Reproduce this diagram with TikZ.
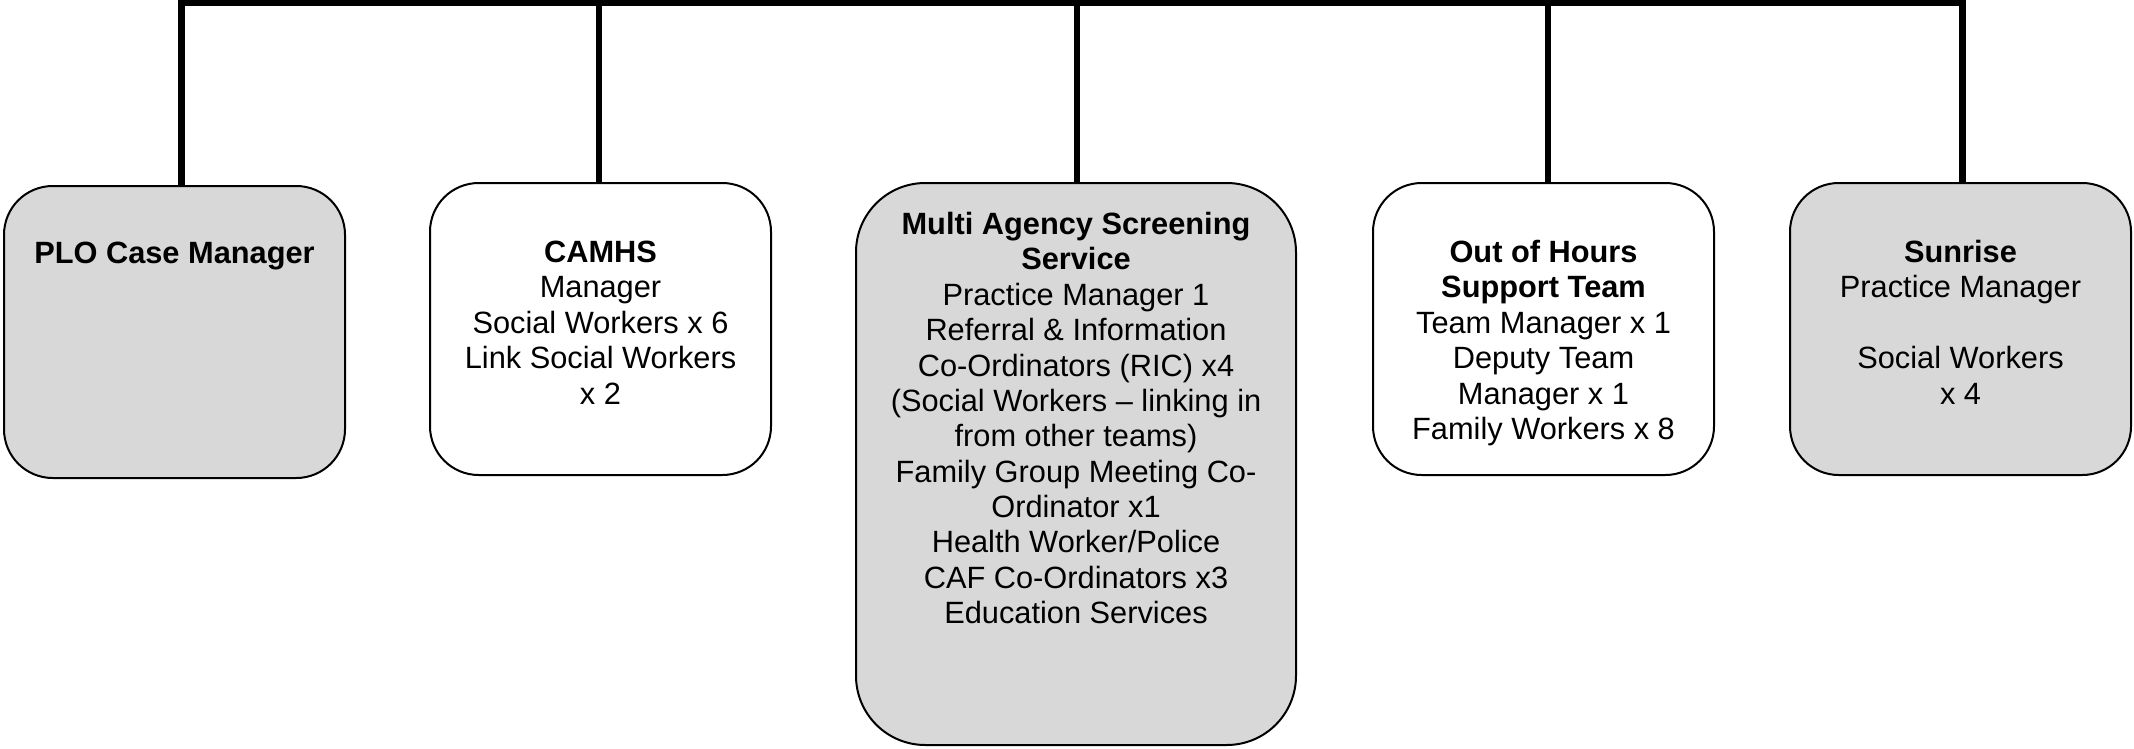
\documentclass[tikz,border=0pt]{standalone}
\usepackage{fontspec}
\setmainfont{Liberation Sans}
\definecolor{boxgrey}{HTML}{D8D8D8}
\begin{document}
\begin{tikzpicture}[x=0.39pt,y=-0.39pt,
  box/.style={draw=black, line width=0.78pt, rounded corners=19pt,
    minimum width=341*0.39pt, minimum height=292*0.39pt, inner sep=0pt},
  bigbox/.style={box, rounded corners=27pt,
    minimum width=440*0.39pt, minimum height=562*0.39pt},
  grey/.style={fill=boxgrey},
  txt/.style={align=center, anchor=north, inner sep=0pt,
    font=\fontsize{12}{13.8}\selectfont},
  conn/.style={draw=black, line width=2.5pt}]
\useasboundingbox (0,0) rectangle (2134,748);

% boxes
\node[box, grey] (plo) at (174.5,332) {};
\node[box] (camhs) at (600.5,329) {};
\node[bigbox, grey] (mass) at (1076,464) {};
\node[box] (ooh) at (1543.5,329) {};
\node[box, grey] (sun) at (1960.5,329) {};

% texts
\node[txt] (plot) at (174.5,238.2) {\strut\textbf{PLO Case Manager}};
\node[txt] (camhst) at (600.5,237.2) {\strut\textbf{CAMHS}\\Manager\\Social Workers x 6\\Link Social Workers\\x 2};
\node[txt] (masst) at (1076,209.2) {\strut\textbf{Multi Agency Screening}\\\textbf{Service}\\Practice Manager 1\\Referral \& Information\\Co-Ordinators (RIC) x4\\(Social Workers – linking in\\from other teams)\\Family Group Meeting Co-\\Ordinator x1\\Health Worker/Police\\CAF Co-Ordinators x3\\Education Services};
\node[txt] (ooht) at (1543.5,237.2) {\strut\textbf{Out of Hours}\\\textbf{Support Team}\\Team Manager x 1\\Deputy Team\\Manager x 1\\Family Workers x 8};
\node[txt] (sunt) at (1960.5,237.2) {\strut\textbf{Sunrise}\\Practice Manager\\\strut\\Social Workers\\x 4};

% connectors
\coordinate (t1) at (181.5,0);
\coordinate (t2) at (599,0);
\coordinate (t3) at (1077,0);
\coordinate (t4) at (1548,0);
\coordinate (t5) at (1962.5,0);
\coordinate (b1) at (181.5,3.25);
\coordinate (b5) at (1962.5,3.25);
\draw[conn, line cap=rect] (b1) -- (b5);
\draw[conn] (t1) -- (t1 |- plo.north);
\draw[conn] (t2) -- (t2 |- camhs.north);
\draw[conn] (t3) -- (t3 |- mass.north);
\draw[conn] (t4) -- (t4 |- ooh.north);
\draw[conn] (t5) -- (t5 |- sun.north);
\end{tikzpicture}
\end{document}
